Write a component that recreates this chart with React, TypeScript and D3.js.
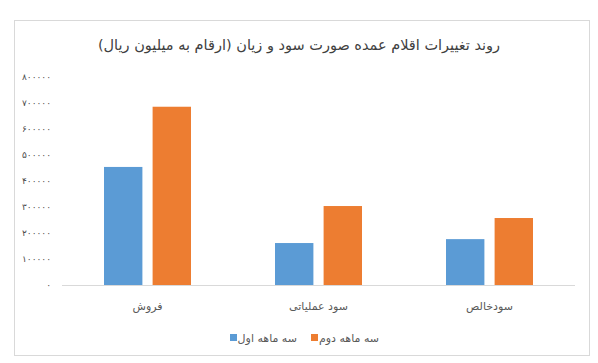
import React, { useEffect, useRef } from 'react';
import * as d3 from 'd3';

const categories = ['فروش', 'سود عملیاتی', 'سودخالص'];
const seriesNames = ['سه ماهه اول', 'سه ماهه دوم'];
const firstQuarter = [453000, 161000, 176000];
const secondQuarter = [684000, 303000, 257000];
const yTicks = [0, 100000, 200000, 300000, 400000, 500000, 600000, 700000, 800000];
const colors = ['#5b9bd5', '#ed7d31'];

const title = 'روند تغییرات اقلام عمده صورت سود و زیان (ارقام به میلیون ریال)';

const faDigits = (n: number) =>
  String(n).replace(/\d/g, (d) => '۰۱۲۳۴۵۶۷۸۹'[+d]);

const App = () => {
  const ref = useRef<SVGSVGElement | null>(null);

  useEffect(() => {
    const width = 598;
    const height = 363;
    const svg = d3.select(ref.current);
    svg.selectAll('*').remove();
    const font = '"DejaVu Sans", sans-serif';

    svg.append('rect')
      .attr('width', width).attr('height', height).attr('fill', '#fff');

    // chart frame
    svg.append('rect')
      .attr('x', 14.5).attr('y', 20.5)
      .attr('width', 575).attr('height', 335)
      .attr('fill', '#fff')
      .attr('stroke', '#d9d9d9');

    svg.append('text')
      .attr('x', 299).attr('y', 50)
      .attr('text-anchor', 'middle')
      .attr('direction', 'rtl')
      .style('font-family', font)
      .style('font-size', '14.5px')
      .style('fill', '#404040')
      .text(title);

    const x0 = d3.scaleBand().domain(categories).range([62, 575]).padding(0);
    const groupW = 87;
    const x1 = d3.scaleBand()
      .domain(seriesNames)
      .range([0, groupW])
      .paddingInner(0.21)
      .paddingOuter(0);
    const y = d3.scaleLinear().domain([0, 800000]).range([285, 76.5]);

    // y tick labels
    svg.append('g')
      .selectAll('text')
      .data(yTicks)
      .enter()
      .append('text')
      .attr('x', 51)
      .attr('y', d => y(d))
      .attr('dy', '0.35em')
      .attr('text-anchor', 'end')
      .style('font-family', font)
      .style('font-size', '9px')
      .style('fill', '#4a4a4a')
      .text(d => faDigits(d));

    const series = [firstQuarter, secondQuarter];
    const groups = svg.append('g')
      .selectAll('g')
      .data(categories)
      .enter()
      .append('g')
      .attr('transform', d => `translate(${x0(d)! + (x0.bandwidth() - groupW) / 2}, 0)`);

    groups.selectAll('rect')
      .data((_, i) => series.map((s, j) => ({ name: seriesNames[j], value: s[i], j })))
      .enter()
      .append('rect')
      .attr('x', d => x1(d.name)!)
      .attr('y', d => y(d.value))
      .attr('width', x1.bandwidth())
      .attr('height', d => y(0) - y(d.value))
      .attr('fill', d => colors[d.j]);

    // baseline
    svg.append('line')
      .attr('x1', 62).attr('x2', 575)
      .attr('y1', y(0) + 0.5).attr('y2', y(0) + 0.5)
      .attr('stroke', '#d9d9d9');

    // category labels
    svg.append('g')
      .selectAll('text')
      .data(categories)
      .enter()
      .append('text')
      .attr('x', d => x0(d)! + x0.bandwidth() / 2)
      .attr('y', 310)
      .attr('text-anchor', 'middle')
      .attr('direction', 'rtl')
      .style('font-family', font)
      .style('font-size', '11px')
      .style('fill', '#595959')
      .text(d => d);

    // legend
    const legendItems = [
      { name: seriesNames[0], color: colors[0], sx: 230, tx: 297 },
      { name: seriesNames[1], color: colors[1], sx: 311, tx: 379 },
    ];
    const lg = svg.append('g');
    legendItems.forEach(item => {
      lg.append('rect')
        .attr('x', item.sx).attr('y', 334)
        .attr('width', 7).attr('height', 7)
        .attr('fill', item.color);
      lg.append('text')
        .attr('x', item.tx).attr('y', 342)
        .attr('text-anchor', 'start')
        .attr('direction', 'rtl')
        .style('font-family', font)
        .style('font-size', '11px')
        .style('fill', '#595959')
        .text(item.name);
    });
  }, []);

  return (
    <svg
      ref={ref}
      width={598}
      height={363}
      style={{ position: 'absolute', left: 0, top: 0, display: 'block' }}
    />
  );
};

export default App;
